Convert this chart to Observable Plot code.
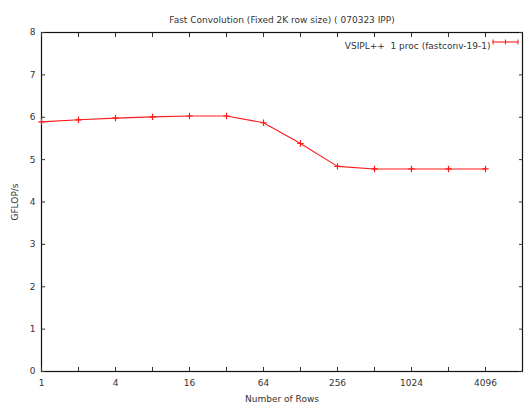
<!DOCTYPE html>
<html>
<head>
<meta charset="utf-8">
<script src="https://cdn.jsdelivr.net/npm/d3@7"></script>
<script src="https://cdn.jsdelivr.net/npm/@observablehq/plot@0.6"></script>
<style>
  body { margin: 0; background: #fff; }
  svg { display: block; }
</style>
</head>
<body>
<div id="chart"></div>
<script>
const title = "Fast Convolution (Fixed 2K row size) ( 070323 IPP)";
const seriesName = "VSIPL++  1 proc (fastconv-19-1)";
const rows = [1, 2, 4, 8, 16, 32, 64, 128, 256, 512, 1024, 2048, 4096];
const gflops = [5.89, 5.94, 5.98, 6.01, 6.03, 6.03, 5.87, 5.38, 4.84, 4.78, 4.78, 4.78, 4.78];
const errs = [0.02, 0.03, 0.04, 0.05, 0.05, 0.05, 0.02, 0.06, 0.03, 0.03, 0.02, 0.02, 0.02];
const xMinorTicks = [1, 2, 4, 8, 16, 32, 64, 128, 256, 512, 1024, 2048, 4096];
const xLabelTicks = [1, 4, 16, 64, 256, 1024, 4096];
const yTicks = [0, 1, 2, 3, 4, 5, 6, 7, 8];

const data = rows.map((r, i) => ({rows: r, g: gflops[i], lo: gflops[i] - errs[i], hi: gflops[i] + errs[i]}));
const red = "#ff1a1a";

const chart = Plot.plot({
  width: 527,
  height: 403,
  marginLeft: 41,
  marginRight: 5,
  marginTop: 32,
  marginBottom: 32,
  style: {fontFamily: "DejaVu Sans", fontSize: "9px", color: "#333", background: "#fff"},
  x: {type: "log", base: 2, domain: [1, 8192]},
  y: {domain: [0, 8]},
  marks: [
    Plot.frame({stroke: "#111", strokeWidth: 1.2}),
    Plot.axisX({ticks: xMinorTicks, tickSize: -4, tickFormat: () => "", label: null, anchor: "bottom"}),
    Plot.axisX({ticks: xMinorTicks, tickSize: -4, tickFormat: () => "", label: null, anchor: "top"}),
    Plot.axisX({ticks: xLabelTicks, tickSize: 0, tickPadding: 8, tickFormat: d => String(d), anchor: "bottom",
      label: "Number of Rows", labelAnchor: "center", labelArrow: "none", labelOffset: 30}),
    Plot.axisY({ticks: yTicks, tickSize: -4, tickFormat: () => "", label: null, anchor: "left"}),
    Plot.axisY({ticks: yTicks, tickSize: -4, tickFormat: () => "", label: null, anchor: "right"}),
    Plot.axisY({ticks: yTicks, tickSize: 0, tickPadding: 6, tickFormat: d => String(d), anchor: "left",
      label: "GFLOP/s", labelAnchor: "center", labelArrow: "none", labelOffset: 30}),
    Plot.line(data, {x: "rows", y: "g", stroke: red, strokeWidth: 1.1}),
    Plot.ruleX(data, {x: "rows", y1: "lo", y2: "hi", stroke: red, strokeWidth: 1}),
    Plot.dot(data, {x: "rows", y: "g", symbol: "plus", r: 2.2, stroke: red, strokeWidth: 1.2}),
    Plot.text([title], {frameAnchor: "top", dy: -16, fontSize: 9, fill: "#333"}),
    Plot.text([seriesName], {frameAnchor: "top-right", dx: -32, dy: 10, textAnchor: "end", fontSize: 9, fill: "#333"})
  ]
});

// legend sample (line with error-bar caps)
const svg = d3.select(chart);
const g = svg.append("g").attr("stroke", red).attr("stroke-width", 1.1);
const ly = 42, lx0 = 493, lx1 = 518;
g.append("line").attr("x1", lx0).attr("x2", lx1).attr("y1", ly).attr("y2", ly);
[lx0, (lx0 + lx1) / 2, lx1].forEach(x => {
  g.append("line").attr("x1", x).attr("x2", x).attr("y1", ly - 2.5).attr("y2", ly + 2.5);
});

document.getElementById("chart").appendChild(chart);
</script>
</body>
</html>
